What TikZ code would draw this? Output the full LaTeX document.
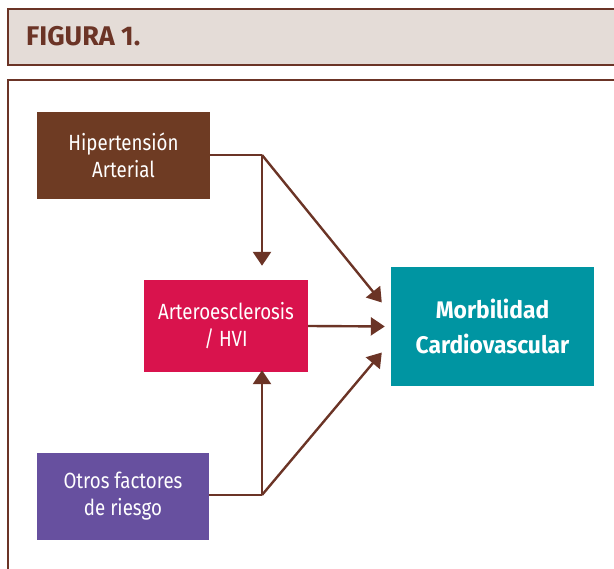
\documentclass[tikz,border=0pt]{standalone}
\usepackage{fontspec}
\setmainfont{Fira Sans}[FakeStretch=0.85]
\newfontfamily\morbfont{Fira Sans}[FakeStretch=0.95]
\newfontfamily\titlefont{Fira Sans}
\usetikzlibrary{arrows.meta}

\definecolor{hipbrown}{HTML}{6E3B23}
\definecolor{artred}{HTML}{D9134D}
\definecolor{otrpurple}{HTML}{67509F}
\definecolor{morbteal}{HTML}{0095A2}
\definecolor{headfill}{HTML}{E4DCD7}
\definecolor{linebrown}{HTML}{6B3426}

\tikzset{
  box/.style={inner sep=0pt, align=center, text=white,
    font=\fontsize{22}{27}\selectfont},
  link/.style={draw=linebrown, line width=2.4pt,
    -{Triangle[width=18pt,length=14pt]}},
}

\begin{document}
\begin{tikzpicture}[x=1pt,y=-1pt]

\useasboundingbox (0,0) rectangle (614,569);

% header
  \draw[linebrown, line width=1.5pt, fill=headfill] (8,9) rectangle (625,65);
  \node[anchor=base west, text=linebrown, inner sep=0pt,
    font=\titlefont\fontsize{27}{30}\selectfont\bfseries] (title) at (26,46) {FIGURA 1.};

% frame
  \draw[linebrown, line width=1.5pt] (8,580) -- (8,80) -- (625,80);

% boxes
\node[box, fill=hipbrown, minimum width=173pt, minimum height=87pt]
  (hip) at (123.5,155.5) {Hipertensión\\Arterial};
\node[box, fill=artred, minimum width=164pt, minimum height=92pt]
  (art) at (226,326) {Arteroesclerosis\\/ HVI};
\node[box, fill=otrpurple, minimum width=172pt, minimum height=87pt]
  (otr) at (123,496.5) {Otros factores\\de riesgo};
\node[box, fill=morbteal, minimum width=203pt, minimum height=119pt,
  font=\morbfont\fontsize{24}{35}\selectfont\bfseries]
  (morb) at (492.5,326.5) {Morbilidad\\Cardiovascular};

\coordinate (j1) at (262,155);
\coordinate (j2) at (262,495);

% from hipertension
  \draw[linebrown, line width=2.4pt] (hip.east |- j1) -- (j1);
  \draw[link, shorten >=14pt] (j1) -- (j1 |- art.north);
  \draw[link] (j1) -- ([xshift=-9pt,yshift=24pt]morb.west);

% from arteroesclerosis
  \draw[link, shorten >=6pt] (art.east) -- (morb.west);

% from otros factores
  \draw[linebrown, line width=2.4pt] (otr.east |- j2) -- (j2);
  \draw[link, shorten >=-2pt] (j2) -- (j2 |- art.south);
  \draw[link] (j2) -- ([xshift=-9pt,yshift=-26pt]morb.west);

\end{tikzpicture}
\end{document}
